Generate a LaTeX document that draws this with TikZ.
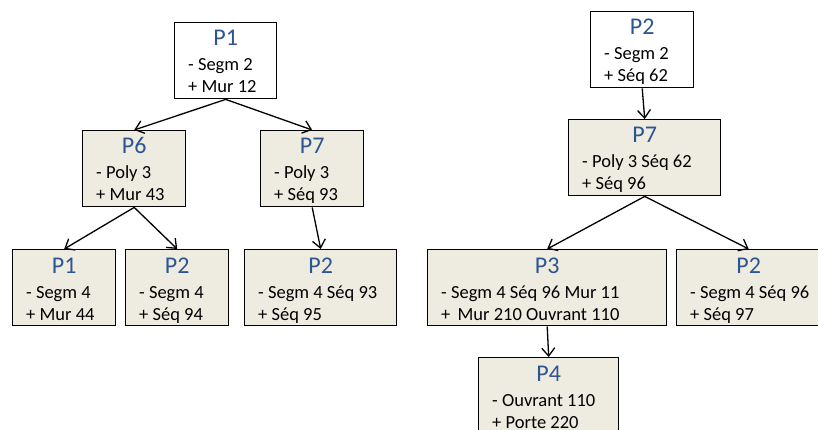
\documentclass[tikz,border=0pt]{standalone}
\usepackage{fontspec}
\setmainfont{Carlito}
\usetikzlibrary{arrows.meta,calc}
\definecolor{boxfill}{HTML}{EEECE1}
\definecolor{titleblue}{HTML}{2C5592}
\tikzset{
  pbox/.style={draw=black, line width=1.4pt, rectangle, inner sep=0pt, minimum height=76pt, anchor=north west},
  ptitle/.style={inner sep=0pt, anchor=base, text=titleblue, font=\fontsize{24}{28}\selectfont},
  pbody/.style={inner sep=0pt, anchor=base west, font=\fontsize{18.5}{22}\selectfont},
  arr/.style={line width=1.3pt, -{Straight Barb[length=8pt,width=13pt,line width=1.3pt]}},
}
\newcommand\pbox[8]{%
  \node[pbox, fill=#5, minimum width=#4pt] (#1) at (#2,#3) {};
  \node[ptitle] (#1t) at ($(#1.north)+(0,24)$) {#6};
  \node[pbody] (#1a) at ($(#1.north west)+(14,49)$) {#7};
  \node[pbody] (#1b) at ($(#1.north west)+(14,71)$) {#8};
}
\begin{document}
\begin{tikzpicture}[x=1pt,y=-1pt]
\useasboundingbox (0,0) rectangle (818,430);
\clip (0,0) rectangle (818,430);
% left tree
\pbox{A}{174}{22}{102}{white}{P1}{- Segm 2}{+ Mur 12}
\pbox{B}{82}{130}{103}{boxfill}{P6}{- Poly 3}{+ Mur 43}
\pbox{C}{260}{130}{103}{boxfill}{P7}{- Poly 3}{+ Séq 93}
\pbox{D}{12}{249}{103}{boxfill}{P1}{- Segm 4}{+ Mur 44}
\pbox{E}{125}{249}{103}{boxfill}{P2}{- Segm 4}{+ Séq 94}
\pbox{F}{244}{249}{152}{boxfill}{P2}{- Segm 4 Séq 93}{+ Séq 95}
% right tree
\pbox{G}{590}{11}{103}{white}{P2}{- Segm 2}{+ Séq 62}
\pbox{H}{568}{119}{152}{boxfill}{P7}{- Poly 3 Séq 62}{+ Séq 96}
\pbox{I}{427}{249}{239}{boxfill}{P3}{- Segm 4 Séq 96 Mur 11}{+~\,Mur 210 Ouvrant 110}
\pbox{J}{676}{249}{144}{boxfill}{P2}{- Segm 4 Séq 96}{+ Séq 97}
\pbox{K}{478}{357}{140}{boxfill}{P4}{- Ouvrant 110}{+ Porte 220}
% connectors
\draw[arr] (A.south) -- (B.north);
\draw[arr] (A.south) -- (C.north);
\draw[arr] (B.south) -- (D.north);
\draw[arr] (B.south) -- (E.north);
\draw[arr] (C.south) -- (F.north);
\draw[arr] (G.south) -- (H.north);
\draw[arr] (H.south) -- (I.north);
\draw[arr] (H.south) -- (J.north);
\draw[arr] (I.south) -- (K.north);
\end{tikzpicture}
\end{document}
